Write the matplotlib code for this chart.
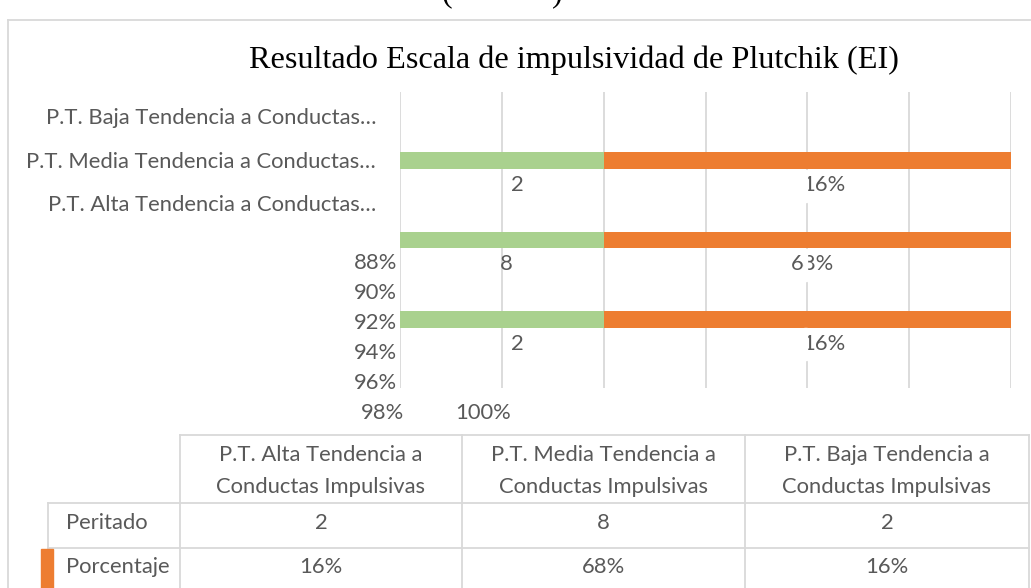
import matplotlib
matplotlib.use("Agg")
import matplotlib.pyplot as plt
from matplotlib.patches import Rectangle

# data
categorias = ["P.T. Alta Tendencia a Conductas Impulsivas",
              "P.T. Media Tendencia a Conductas Impulsivas",
              "P.T. Baja Tendencia a Conductas Impulsivas"]
peritado = [2, 8, 2]
porcentaje = ["16%", "68%", "16%"]
# stacked bar ends as drawn on the (broken) 88%-100% axis
barra_verde = [92, 92, 92]
barra_naranja = [8, 8, 8]
eje_ticks = ["88%", "90%", "92%", "94%", "96%", "98%", "100%"]

W, H = 1031, 588
GRIS = "#595959"
LINEA = "#d9d9d9"
VERDE = "#a9d18e"
NARANJA = "#ed7d31"
FUENTE = "Lato"
FS = 15.8

fig = plt.figure(figsize=(W / 100, H / 100), dpi=100)

# pixel overlay for frame, table and loose texts
bg = fig.add_axes([0, 0, 1, 1])
bg.set_xlim(0, W)
bg.set_ylim(H, 0)
bg.axis("off")

def hline(y, x0, x1):
    bg.plot([x0, x1], [y, y], color=LINEA, lw=1.3)

def vline(x, y0, y1):
    bg.plot([x, x], [y0, y1], color=LINEA, lw=1.3)

# chart frame
hline(20, 8, W)
vline(8, 20, H)

# cut-off text above the frame
bg.text(447, 8, "(", fontsize=23, family="Liberation Serif", ha="center", va="bottom", color="black")
bg.text(557, 8, ")", fontsize=23, family="Liberation Serif", ha="center", va="bottom", color="black")

# title
bg.text(574, 60, "Resultado Escala de impulsividad de Plutchik (EI)", fontsize=23.2,
        family="Liberation Serif", ha="center", va="center", color="black")

# bar chart
ax = fig.add_axes([400 / W, 1 - 388 / H, 611 / W, 296 / H])
ax.set_zorder(2)
ax.patch.set_alpha(0)
pos = [2, 1, 0]  # Alta at bottom
ax.barh(pos, barra_verde, height=0.215, color=VERDE, zorder=2)
ax.barh(pos, barra_naranja, left=barra_verde, height=0.215, color=NARANJA, zorder=2)
ax.set_xlim(88, 100)
ax.set_ylim(2.873, -0.873)
ax.set_xticks(range(88, 101, 2))
ax.grid(axis="x", color=LINEA, lw=1.3, zorder=0)
ax.tick_params(left=False, bottom=False, labelleft=False, labelbottom=False)
for s in ax.spines.values():
    s.set_visible(False)

for p, v, t in zip(pos, peritado, porcentaje):
    grande = v > 5
    ax.text(90.08 if grande else 90.3, p + 0.31, str(v), fontsize=FS, family=FUENTE,
            color=GRIS, ha="center", va="center", zorder=3)
    ax.text(96.1 if grande else 96.32, p + 0.31, t, fontsize=FS, family=FUENTE, color=GRIS,
            ha="center", va="center", zorder=3)
# the slice that hides part of the percentage labels
for p in pos:
    ax.add_patch(Rectangle((95.93, p + 0.12), 0.055, 0.4, color="white", zorder=4))

# category labels (shifted up, truncated)
for i, c in enumerate(categorias[::-1]):
    corto = " ".join(c.split()[:-1]) + "…"
    bg.text(376, 118 + 43.5 * i, corto, fontsize=FS, family=FUENTE, color=GRIS,
            ha="right", va="center")

# misplaced axis labels
for i, t in enumerate(eje_ticks[:5]):
    bg.text(397, 263 + 30 * i, t, fontsize=FS, family=FUENTE, color=GRIS, ha="right", va="center")
bg.text(383, 413, eje_ticks[5], fontsize=FS, family=FUENTE, color=GRIS, ha="center", va="center")
bg.text(483, 413, eje_ticks[6], fontsize=FS, family=FUENTE, color=GRIS, ha="center", va="center")

# data table
cols = [180, 462, 745, 1029]
hline(435, 180, 1029)
hline(503, 48, 1029)
hline(548, 48, 1029)
for x in cols:
    vline(x, 435, H)
vline(48, 503, H)
bg.add_patch(Rectangle((41, 549), 12, 39, color=NARANJA, zorder=3))

for i, c in enumerate(categorias):
    cx = (cols[i] + cols[i + 1]) / 2
    palabras = c.split()
    bg.text(cx, 455, " ".join(palabras[:4]), fontsize=FS, family=FUENTE, color=GRIS, ha="center", va="center")
    bg.text(cx, 487, " ".join(palabras[4:]), fontsize=FS, family=FUENTE, color=GRIS, ha="center", va="center")
    bg.text(cx, 523, str(peritado[i]), fontsize=FS, family=FUENTE, color=GRIS, ha="center", va="center")
    bg.text(cx, 567, porcentaje[i], fontsize=FS, family=FUENTE, color=GRIS, ha="center", va="center")
bg.text(66, 523, "Peritado", fontsize=FS, family=FUENTE, color=GRIS, ha="left", va="center")
bg.text(66, 567, "Porcentaje", fontsize=FS, family=FUENTE, color=GRIS, ha="left", va="center")

fig.savefig("out.png", dpi=100)
